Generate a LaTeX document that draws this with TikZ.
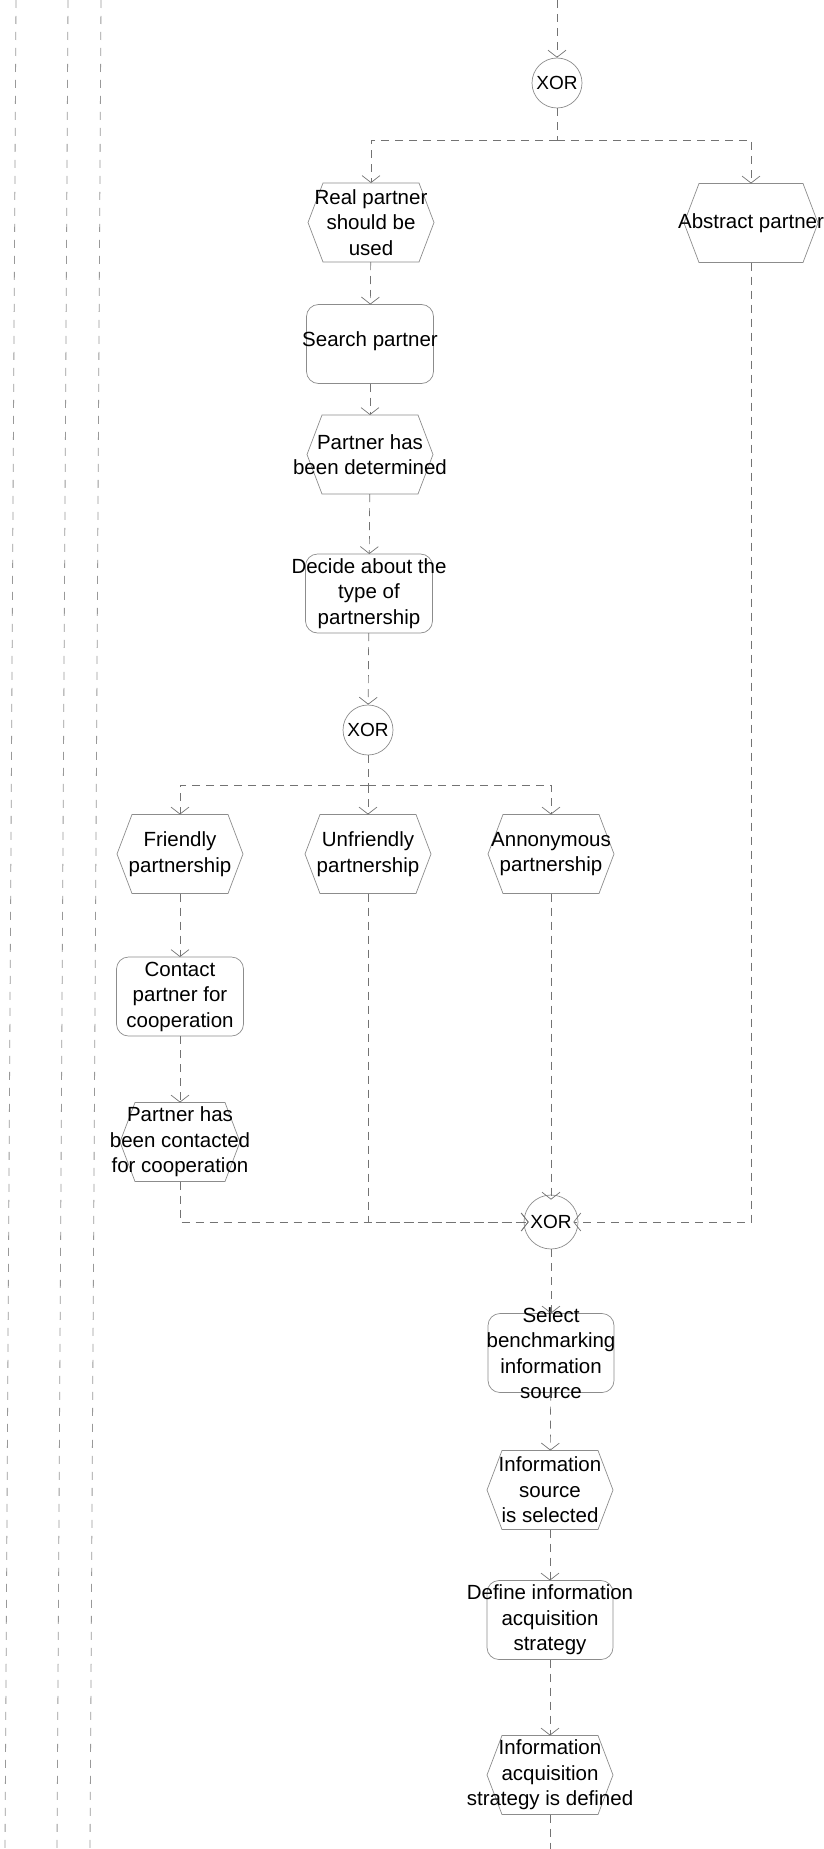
\documentclass[tikz,border=0pt]{standalone}
\usepackage{fontspec}
\setmainfont{Liberation Sans}
\usetikzlibrary{arrows.meta}

\definecolor{wire}{gray}{0.45}
\definecolor{edgegray}{gray}{0.55}
\definecolor{lanegray}{gray}{0.6}

\newcommand\boxfont{\fontsize{20.5pt}{25.5pt}\selectfont}
\newcommand\xorfont{\fontsize{19pt}{22pt}\selectfont}
% hexagonal outline of an event, drawn on the frame of a fixed-size node
\newcommand\evtframe[1]{\draw[shapeline] (#1.west) -- ([xshift=15pt]#1.north west) -- ([xshift=-15pt]#1.north east) -- (#1.east) -- ([xshift=-15pt]#1.south east) -- ([xshift=15pt]#1.south west) -- cycle;}

\tikzset{
  shapeline/.style={draw=edgegray, line width=0.7pt},
  evt/.style={minimum width=126pt, minimum height=79pt, inner sep=0pt, outer sep=0pt},
  fn/.style={shapeline, rounded corners=12pt, minimum width=127pt, minimum height=79pt, inner sep=0pt, outer sep=0pt},
  xor/.style={shapeline, circle, minimum size=50pt, inner sep=0pt, font=\xorfont},
  txt/.style={font=\boxfont, align=center, inner sep=0pt},
  link/.style={draw=wire, line width=0.7pt, dash pattern=on 8pt off 6pt},
  flow/.style={link, -{Straight Barb[length=7pt,width=18pt,line width=0.7pt]}},
  lanes/.style={draw=lanegray, line width=0.8pt, dash pattern=on 8pt off 8pt},
}

\begin{document}
\begin{tikzpicture}[x=1pt,y=-1pt]
\useasboundingbox (0,0) rectangle (824,1849);

% swimlane borders on the left
\draw[lanes] (16,0) -- (5,1849);
\draw[lanes] (68,0) -- (57,1849);
\draw[lanes] (101,0) -- (90,1849);

% nodes
\coordinate (in) at (557,0);
\node[xor] (xor1) at (557,83) {XOR};
\coordinate (j1) at (557,140);

\node[evt] (real) at (371,222.5) {};
\node[evt, minimum width=134pt] (abstract) at (751,223) {};
\node[fn] (search) at (370,344) {};
\node[evt] (pdet) at (370,454.5) {};
\node[fn] (decide) at (369,593.5) {};
\node[xor] (xor2) at (368,730) {XOR};
\coordinate (j2) at (368,785);

\node[evt] (friendly) at (180,854) {};
\node[evt] (unfr) at (368,854) {};
\node[evt] (annon) at (551,854) {};
\node[fn] (contact) at (180,996.5) {};
\node[evt, minimum width=120pt] (contacted) at (180,1142) {};

\node[xor, minimum size=54pt] (xor3) at (551,1222) {XOR};
\node[fn, minimum width=126pt] (select) at (551,1353) {};
\node[evt] (isel) at (550,1490) {};
\node[fn, minimum width=126pt] (define) at (550,1620) {};
\node[evt] (iacq) at (550,1775) {};
\coordinate (out) at (550,1849);

\foreach \n in {real,abstract,pdet,friendly,unfr,annon,contacted,isel,iacq} {\evtframe{\n}}

% texts
\node[txt] (realT) at (real) {Real partner\\should be\\used};
\node[txt] (abstractT) at (abstract) {Abstract partner};
\node[txt, yshift=3pt] (searchT) at (search) {Search partner};
\node[txt] (pdetT) at (pdet) {Partner has\\been determined};
\node[txt] (decideT) at (decide) {Decide about the\\type of\\partnership};
\node[txt] (friendlyT) at (friendly) {Friendly\\partnership};
\node[txt] (unfrT) at (unfr) {Unfriendly\\partnership};
\node[txt] (annonT) at (annon) {Annonymous\\partnership};
\node[txt] (contactT) at (contact) {Contact\\partner for\\cooperation};
\node[txt] (contactedT) at (contacted) {Partner has\\been contacted\\for cooperation};
\node[txt] (selectT) at (select) {Select\\benchmarking\\information\\source};
\node[txt] (iselT) at (isel) {Information\\source\\is selected};
\node[txt] (defineT) at (define) {Define information\\acquisition\\strategy};
\node[txt] (iacqT) at (iacq) {Information\\acquisition\\strategy is defined};

% control flow
\draw[flow] (in) -- (xor1);
\draw[link] (xor1) -- (j1);
\draw[flow] (j1) -| (real);
\draw[flow] (j1) -| (abstract);
\draw[flow] (real) -- (search);
\draw[flow] (search) -- (pdet);
\draw[flow] (pdet) -- (decide);
\draw[flow] (decide) -- (xor2);
\draw[link] (xor2) -- (j2);
\draw[flow] (j2) -| (friendly);
\draw[flow] (j2) -- (unfr);
\draw[flow] (j2) -| (annon);
\draw[flow] (friendly) -- (contact);
\draw[flow] (contact) -- (contacted);
\draw[flow, shorten >=-5pt] (contacted) |- (xor3);
\draw[flow, shorten >=-5pt] (unfr) |- (xor3);
\draw[flow, shorten >=-5pt] (annon) -- (xor3);
\draw[flow, shorten >=-5pt] (abstract) |- (xor3);
\draw[flow] (xor3) -- (select);
\draw[flow] (select) -- (isel);
\draw[flow] (isel) -- (define);
\draw[flow] (define) -- (iacq);
\draw[link] (iacq) -- (out);
\end{tikzpicture}
\end{document}
